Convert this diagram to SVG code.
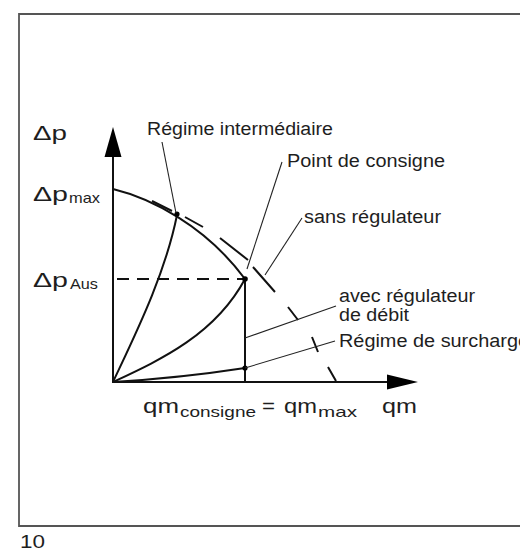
<svg xmlns="http://www.w3.org/2000/svg" width="520" height="552" viewBox="0 0 520 552">
<style>
text{font-family:"Liberation Sans",Arial,Helvetica,sans-serif;fill:#1e1e1e}
.lbl{font-size:18px}
.sym{font-size:21px}
.sub{font-size:15px}
.thick{fill:none;stroke:#111;stroke-width:2;stroke-linecap:butt}
.thin{fill:none;stroke:#222;stroke-width:1.1}
.dot{fill:#000}
</style>
<rect width="520" height="552" fill="#fff"/>
<g id="frame">
<path d="M522,14 H19 V526 H522" fill="none" stroke="#555" stroke-width="1.8"/>
</g>
<g id="axes">
<line class="thick" x1="113" y1="383" x2="113" y2="154"/>
<polygon points="113,127 104.5,157 121.5,157" fill="#000"/>
<line class="thick" x1="112" y1="382" x2="390" y2="382"/>
<polygon points="418,382 387,374.5 387,389.5" fill="#000"/>
</g>
<g id="curves">
<path id="pump-curve" class="thick" d="M113,189 C150,198 205,225 245,279"/>
<path id="no-regulator" class="thick" d="M152,201 L172,211 M185,217 L203,227 M220,238 L248,260 M253,267 L275,292 M288,307 L298,320 M312,337 L318,352 M328,367 L336,381"/>
<path id="intermediate" class="thick" d="M113,382 C135,335 165,275 177,215"/>
<path id="nominal" class="thick" d="M113,382 C160,360 215,335 245,279"/>
<path id="overload" class="thick" d="M113,382 Q180,378 245,368"/>
<line class="thick" x1="245" y1="279" x2="245" y2="382"/>
<line class="thick" x1="113" y1="279" x2="245" y2="279" stroke-dasharray="12 8" stroke-dashoffset="-4"/>
<circle class="dot" cx="177" cy="214" r="2.6"/>
<circle class="dot" cx="245" cy="279" r="2.8"/>
<circle class="dot" cx="245" cy="368" r="2.6"/>
</g>
<g id="connectors">
<line class="thin" x1="162" y1="142" x2="176" y2="213"/>
<line class="thin" x1="282" y1="162" x2="247" y2="269"/>
<line class="thin" x1="302" y1="218" x2="265" y2="275"/>
<line class="thin" x1="245" y1="338" x2="336" y2="306"/>
<line class="thin" x1="245" y1="368" x2="335" y2="341"/>
</g>
<g id="labels">
<text class="sym" x="33" y="140" textLength="34" lengthAdjust="spacingAndGlyphs">Δp</text>
<text class="sym" x="33" y="201" textLength="35" lengthAdjust="spacingAndGlyphs">Δp</text>
<text class="sub" x="69" y="203" textLength="31" lengthAdjust="spacingAndGlyphs">max</text>
<text class="sym" x="33" y="287" textLength="35" lengthAdjust="spacingAndGlyphs">Δp</text>
<text class="sub" x="70" y="289" textLength="28" lengthAdjust="spacingAndGlyphs">Aus</text>
<text class="lbl" x="147" y="135" textLength="186" lengthAdjust="spacingAndGlyphs">Régime intermédiaire</text>
<text class="lbl" x="287" y="167" textLength="158" lengthAdjust="spacingAndGlyphs">Point de consigne</text>
<text class="lbl" x="304" y="223" textLength="137" lengthAdjust="spacingAndGlyphs">sans régulateur</text>
<text class="lbl" x="339" y="302" textLength="136" lengthAdjust="spacingAndGlyphs">avec régulateur</text>
<text class="lbl" x="339" y="321" textLength="70" lengthAdjust="spacingAndGlyphs">de débit</text>
<text class="lbl" x="339" y="347" textLength="190" lengthAdjust="spacingAndGlyphs">Régime de surcharge</text>
<text class="sym" x="143" y="413" textLength="36" lengthAdjust="spacingAndGlyphs">qm</text>
<text class="sub" x="180" y="417" textLength="76" lengthAdjust="spacingAndGlyphs">consigne</text>
<text class="sym" x="262" y="413" textLength="13" lengthAdjust="spacingAndGlyphs">=</text>
<text class="sym" x="284" y="413" textLength="33" lengthAdjust="spacingAndGlyphs">qm</text>
<text class="sub" x="318" y="417" textLength="39" lengthAdjust="spacingAndGlyphs">max</text>
<text class="sym" x="382" y="413" textLength="35" lengthAdjust="spacingAndGlyphs">qm</text>
<text class="lbl" x="20" y="548" font-size="18" textLength="25" lengthAdjust="spacingAndGlyphs">10</text>
</g>
</svg>
